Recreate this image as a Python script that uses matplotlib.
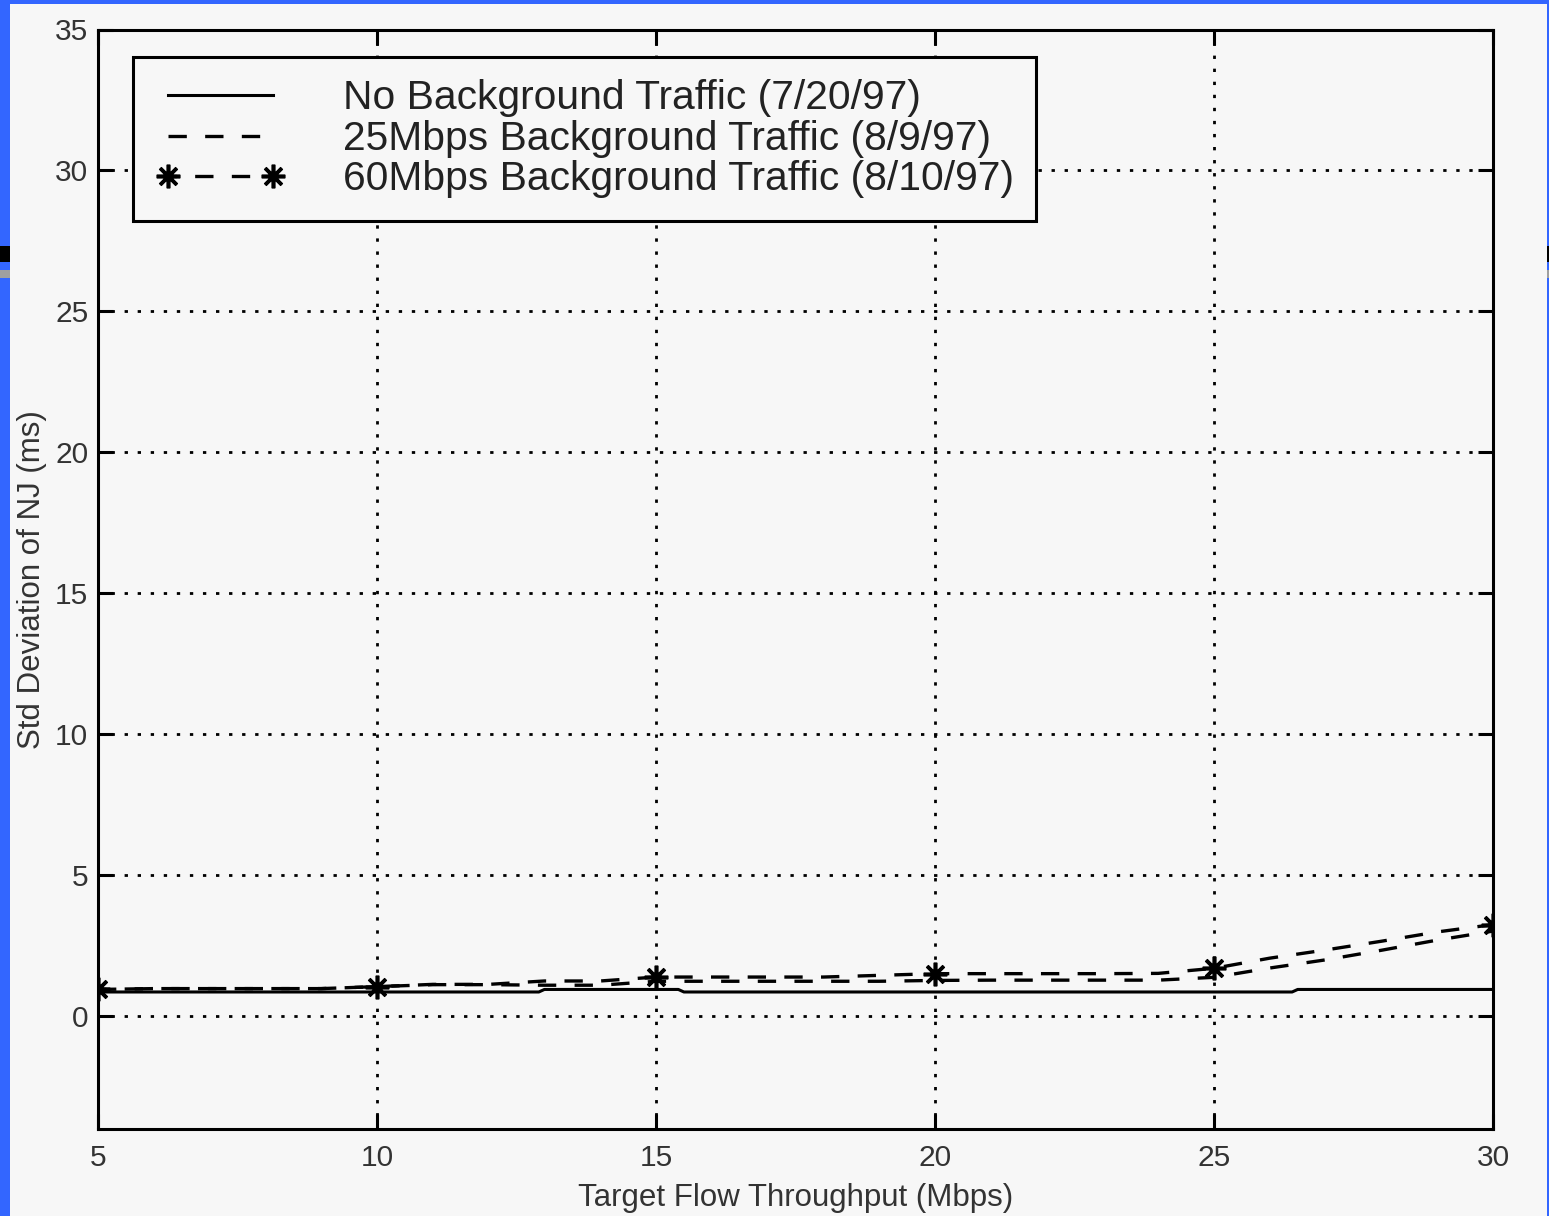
import matplotlib
matplotlib.use("Agg")
import matplotlib.pyplot as plt
from matplotlib.patches import Rectangle

plt.rcParams['font.family'] = ['Liberation Sans', 'DejaVu Sans']

# ---- data ----
throughput = [5, 6, 7, 8, 9, 10, 11, 12, 13, 14, 15, 16, 17, 18, 19, 20,
              21, 22, 23, 24, 25, 26, 27, 28, 29, 30]
bg60_std = [0.95, 0.98, 0.98, 0.98, 0.98, 1.05, 1.13, 1.13, 1.25, 1.25, 1.39,
            1.39, 1.39, 1.39, 1.45, 1.51, 1.51, 1.51, 1.51, 1.52, 1.70, 2.06,
            2.35, 2.66, 2.99, 3.25]
bg25_std = [0.95, 0.98, 0.98, 0.98, 0.98, 1.05, 1.12, 1.12, 1.10, 1.10, 1.24,
            1.24, 1.24, 1.24, 1.24, 1.27, 1.28, 1.28, 1.28, 1.28, 1.38, 1.71,
            2.00, 2.34, 2.70, 3.02]
nobg_x = [5, 12.9, 13.0, 15.4, 15.5, 26.4, 26.5, 30]
nobg_std = [0.86, 0.86, 0.95, 0.95, 0.86, 0.86, 0.95, 0.95]

labels = ["No Background Traffic (7/20/97)",
          "25Mbps Background Traffic (8/9/97)",
          "60Mbps Background Traffic (8/10/97)"]
xticks = [5, 10, 15, 20, 25, 30]
yticks = [0, 5, 10, 15, 20, 25, 30, 35]

BG = '#f7f7f7'
BLUE = '#3366ff'
W, H = 1549, 1216

fig = plt.figure(figsize=(W / 100, H / 100), dpi=100, facecolor=BG)

# slide border / artifacts
def px_rect(x0, y0, w, h, color):
    fig.patches.append(Rectangle((x0 / W, 1 - (y0 + h) / H), w / W, h / H,
                                 transform=fig.transFigure, color=color,
                                 zorder=-10, lw=0))

px_rect(0, 0, 10, H, BLUE)
px_rect(0, 0, W, 4, BLUE)
px_rect(W - 2, 0, 2, H, BLUE)
px_rect(0, 246, 10, 16, 'black')
px_rect(0, 270, 10, 8, '#a0a0a0')
px_rect(W - 2, 246, 2, 16, 'black')
px_rect(W - 2, 270, 2, 8, '#a0a0a0')

ax = fig.add_axes([98 / W, 1 - 1129 / H, (1493 - 98) / W, (1129 - 29.5) / H])
ax.set_facecolor(BG)

lw = 2.4
ax.plot(nobg_x, nobg_std, color='black', lw=2.2, label=labels[0])
ax.plot(throughput, bg25_std, color='black', lw=lw, linestyle=(0, (5.5, 5.5)),
        label=labels[1])
ax.plot(throughput, bg60_std, color='black', lw=lw, linestyle=(3, (5.5, 5.5)),
        marker=(8, 2, 0), markersize=17, markeredgewidth=2.6, markevery=5,
        label=labels[2])

ax.set_xlim(5, 30)
ax.set_ylim(-4, 35)
ax.set_xticks(xticks)
ax.set_yticks(yticks)
ax.grid(True, color='black', linestyle=(0, (1.2, 3.5)), linewidth=2.0)
ax.set_axisbelow(True)

for s in ax.spines.values():
    s.set_linewidth(2.2)
    s.set_color('black')

ax.tick_params(direction='in', length=11, width=2.2, top=True, right=True,
               labelsize=21.5, labelcolor='#333333')
ax.tick_params(axis='x', pad=11)
ax.tick_params(axis='y', pad=7)

ax.set_xlabel("Target Flow Throughput (Mbps)", fontsize=22.5, color='#333333',
              labelpad=8)
ax.set_ylabel("Std Deviation of NJ (ms)", fontsize=22.5, color='#333333',
              labelpad=6)

leg = ax.legend(loc='upper left', bbox_to_anchor=(35 / 1395, (1129 - 57) / 1099.5),
                borderaxespad=0, fontsize=29.3, numpoints=2, fancybox=False,
                framealpha=1, facecolor=BG, edgecolor='black',
                borderpad=0.55, handlelength=3.2, handletextpad=1.4,
                labelspacing=0.06)
leg.get_frame().set_linewidth(2.2)
for t in leg.get_texts():
    t.set_color('#222222')

fig.savefig('out.png', dpi=100, facecolor=BG)
